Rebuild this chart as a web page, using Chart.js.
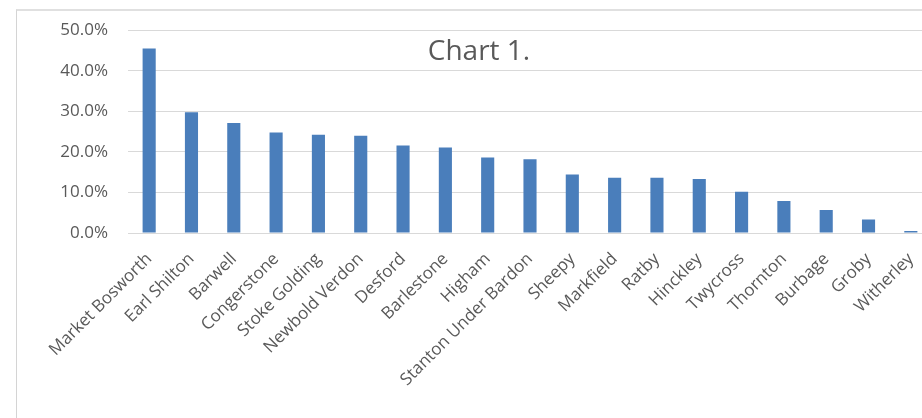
<!DOCTYPE html>
<html>
<head>
<meta charset="utf-8">
<script src="https://cdn.jsdelivr.net/npm/chart.js@4/dist/chart.umd.min.js"></script>
<style>
  html, body { margin: 0; padding: 0; background: #fff; overflow: hidden; }
  #wrap { position: relative; width: 922px; height: 418px; overflow: hidden; }
  #frame { position: absolute; left: 16px; top: 9px; width: 1000px; height: 500px;
           border-left: 1px solid #d4d4d4; border-top: 2px solid #e0e0e0; }
  #box { position: absolute; left: 0; top: 0; width: 960px; height: 418px; }
  #title { position: absolute; left: 0; width: 958px; top: 30px; text-align: center;
           font: 28px "Open Sans", sans-serif; color: #595959; pointer-events: none; }
</style>
</head>
<body>
<div id="wrap">
  <div id="frame"></div>
  <div id="box"><canvas id="chart"></canvas></div>
  <div id="title">Chart 1.</div>
</div>
<script>
const places = ['Market Bosworth', 'Earl Shilton', 'Barwell', 'Congerstone', 'Stoke Golding',
  'Newbold Verdon', 'Desford', 'Barlestone', 'Higham', 'Stanton Under Bardon', 'Sheepy',
  'Markfield', 'Ratby', 'Hinckley', 'Twycross', 'Thornton', 'Burbage', 'Groby', 'Witherley'];
const share = [45.5, 29.8, 27.1, 24.8, 24.2, 24.0, 21.6, 21.1, 18.6, 18.2, 14.4,
  13.6, 13.6, 13.3, 10.2, 7.9, 5.7, 3.3, 0.5];
const yTicks = [0, 10, 20, 30, 40, 50];

const labelColor = '#595959';

window.addEventListener('DOMContentLoaded', () => {
  const ctx = document.getElementById('chart').getContext('2d');
  new Chart(ctx, {
    type: 'bar',
    data: {
      labels: places,
      datasets: [{
        data: share,
        backgroundColor: '#4a7ebb',
        barPercentage: 0.31,
        categoryPercentage: 1
      }]
    },
    options: {
      responsive: true,
      maintainAspectRatio: false,
      animation: false,
      layout: { padding: { left: 0, top: 23, right: 28, bottom: 0 } },
      plugins: { legend: { display: false }, tooltip: { enabled: false } },
      scales: {
        x: {
          grid: { display: false },
          border: { display: false },
          ticks: {
            color: labelColor,
            font: { family: 'Open Sans', size: 17 },
            minRotation: 45,
            maxRotation: 45,
            autoSkip: false,
            padding: 8
          },
          afterFit: s => { s.height = 185; }
        },
        y: {
          min: 0,
          max: 50,
          afterBuildTicks: s => { s.ticks = yTicks.map(v => ({ value: v })); },
          grid: { color: '#d9d9d9', drawTicks: false },
          border: { display: false },
          ticks: {
            color: labelColor,
            font: { family: 'Open Sans', size: 17 },
            padding: 20,
            callback: v => v.toFixed(1) + '%'
          },
          afterFit: s => { s.width = 128; }
        }
      }
    }
  });
});
</script>
</body>
</html>
